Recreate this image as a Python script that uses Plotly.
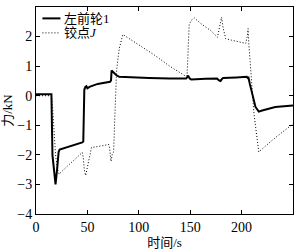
import plotly.graph_objects as go

# 左前轮1 (solid)
t_wheel = [0, 14, 15, 16, 17.5, 19, 20.5, 22, 23, 35, 45, 46, 47, 48, 49, 50, 52, 60, 72, 73, 73.5, 75, 78, 81,
           90, 110, 130, 146, 147, 148, 149.5, 151, 165, 176, 178, 179.5, 181, 182, 195, 205, 206, 206.5, 208,
           211, 213.5, 216.7, 220, 232.7, 250]
f_wheel = [0.05, 0.07, 0.05, -2.0, -2.6, -3.0, -2.5, -1.9, -1.82, -1.7, -1.58, -1.55, 0.2, 0.3, 0.32, 0.25, 0.3, 0.4, 0.47, 0.52, 0.85, 0.8, 0.7, 0.64,
           0.62, 0.6, 0.58, 0.58, 0.62, 0.68, 0.58, 0.55, 0.57, 0.58, 0.52, 0.5, 0.57, 0.6, 0.62, 0.64, 0.6, 0.64, 0.4,
           -0.05, -0.38, -0.54, -0.5, -0.38, -0.33]

# 铰点J (dotted)
t_joint = [0, 15, 16, 17, 19, 21, 22.5, 30, 40, 45, 46, 47, 48.3, 50, 52, 54, 60, 71, 72, 73, 74, 75.5, 77, 78.5, 81, 84.5,
           100, 115, 130, 146, 147, 148, 149, 151, 154, 160, 170, 176.5, 178, 180.5, 182, 184.5, 190, 200, 204,
           205.5, 206.3, 207, 208.5, 212, 216.7, 230, 250]
f_joint = [0.0, 0.0, -0.3, -1.0, -2.0, -2.5, -2.65, -2.4, -2.1, -1.92, -2.1, -2.5, -2.7, -2.4, -2.0, -1.75, -1.72, -1.65, -1.9, -2.22, -2.0, -1.9, -0.4, 0.9, 1.6, 2.07,
           1.72, 1.38, 1.0, 0.65, 0.7, 1.5, 2.4, 2.55, 2.63, 2.45, 2.2, 1.98, 2.2, 2.65, 2.3, 1.93, 1.88, 1.8, 1.77,
           2.0, 2.27, 1.77, 0.95, -0.6, -1.9, -1.5, -0.95]

x_ticks = [0, 50, 100, 150, 200, 250]
y_ticks = [-4, -3, -2, -1, 0, 1, 2, 3]
legend_names = ["左前轮1", "铰点<i>J</i>"]

SERIF = "Liberation Serif, Times New Roman, serif"
MIXED = "Liberation Serif, Times New Roman, Noto Sans CJK SC, serif"
DOT = "1px,2px"

fig = go.Figure()
fig.add_trace(go.Scatter(x=t_wheel, y=f_wheel, mode="lines", name=legend_names[0],
                         line=dict(color="black", width=2), showlegend=False))
fig.add_trace(go.Scatter(x=t_joint, y=f_joint, mode="lines", name=legend_names[1],
                         line=dict(color="black", width=1, dash=DOT), showlegend=False))

# manual legend (line sample + text)
for i, (name, dash, w) in enumerate([(legend_names[0], "solid", 2), (legend_names[1], DOT, 1)]):
    yy = 0.945 - i * 0.07
    fig.add_shape(type="line", xref="paper", yref="paper", x0=0.025, x1=0.095, y0=yy, y1=yy,
                  line=dict(color="black", width=w, dash=dash))
    fig.add_annotation(xref="paper", yref="paper", x=0.1, y=yy, text=name, showarrow=False,
                       xanchor="left", yanchor="middle",
                       font=dict(family=MIXED, size=13, color="black"))

axis_common = dict(showgrid=False, zeroline=False, showline=True, linecolor="black", linewidth=1,
                   mirror="ticks", ticks="inside", ticklen=4, tickcolor="black",
                   tickfont=dict(family=SERIF, size=14, color="black"))

fig.update_xaxes(range=[0, 250], tickvals=x_ticks, **axis_common,
                 title=dict(text="时间/s", standoff=2,
                            font=dict(family=MIXED, size=13, color="black")))
fig.update_yaxes(range=[-4, 3], tickvals=y_ticks, **axis_common,
                 title=dict(text="力/kN", standoff=2,
                            font=dict(family=MIXED, size=13, color="black")))

fig.update_layout(width=300, height=252, margin=dict(l=33, r=7, t=6, b=31),
                  plot_bgcolor="white", paper_bgcolor="white",
                  font=dict(family=SERIF, color="black"))

fig.write_html("out.html")
